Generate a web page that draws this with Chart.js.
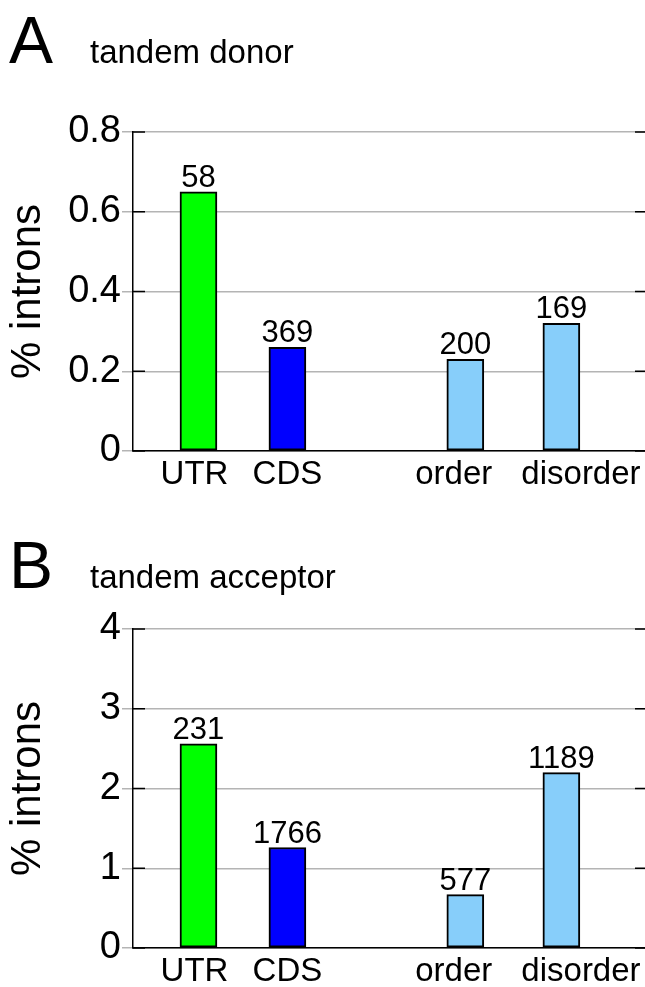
<!DOCTYPE html>
<html>
<head>
<meta charset="utf-8">
<script src="https://cdn.jsdelivr.net/npm/chart.js@4.4.1/dist/chart.umd.min.js"></script>
<style>
  html, body { margin: 0; padding: 0; background: #fff; }
  #wrap { position: relative; width: 645px; height: 987px; }
  .panel { position: absolute; left: 0; width: 645px; height: 490px; }
</style>
</head>
<body>
<div id="wrap">
  <div class="panel" style="top:0"><canvas id="chartA"></canvas></div>
  <div class="panel" style="top:497px"><canvas id="chartB"></canvas></div>
</div>
<script>
// data
const categories = ['UTR', 'CDS', 'order', 'disorder'];
const donorValues = [0.65, 0.26, 0.23, 0.32];
const donorCounts = [58, 369, 200, 169];
const acceptorValues = [2.56, 1.26, 0.67, 2.20];
const acceptorCounts = [231, 1766, 577, 1189];
const donorTicks = [0, 0.2, 0.4, 0.6, 0.8];
const acceptorTicks = [0, 1, 2, 3, 4];
const barColors = ['#00ff00', '#0000ff', '#87cefa', '#87cefa'];

// where the groups sit along the x axis (axis units, not pixels)
const barSlots = [1, 2, 4, 5.08];
const labelSlots = [0.955, 2, 3.87, 5.3];

const FONT = "'Liberation Sans', Arial, Helvetica, sans-serif";

// short black ticks inside the frame, left and right
const innerTicks = {
  id: 'innerTicks',
  afterDraw(chart) {
    const ctx = chart.ctx;
    const y = chart.scales.y;
    const area = chart.chartArea;
    ctx.save();
    ctx.strokeStyle = '#000';
    ctx.lineWidth = 1.5;
    y.ticks.forEach(t => {
      const py = y.getPixelForValue(t.value);
      ctx.beginPath();
      ctx.moveTo(area.left, py);
      ctx.lineTo(area.left + 12, py);
      ctx.moveTo(area.right - 10, py);
      ctx.lineTo(area.right, py);
      ctx.stroke();
    });
    ctx.restore();
  }
};

// counts above bars
const countLabels = {
  id: 'countLabels',
  afterDatasetsDraw(chart, args, opts) {
    const ctx = chart.ctx;
    const meta = chart.getDatasetMeta(0);
    ctx.save();
    ctx.fillStyle = '#000';
    ctx.font = '31px ' + FONT;
    ctx.textAlign = 'center';
    ctx.textBaseline = 'alphabetic';
    meta.data.forEach((bar, i) => {
      ctx.fillText(String(opts.counts[i]), bar.x, bar.y - 5);
    });
    ctx.restore();
  }
};

// panel letter + subtitle
const panelHeader = {
  id: 'panelHeader',
  afterDraw(chart, args, opts) {
    const ctx = chart.ctx;
    ctx.save();
    ctx.fillStyle = '#000';
    ctx.textAlign = 'left';
    ctx.textBaseline = 'alphabetic';
    ctx.font = '66px ' + FONT;
    ctx.fillText(opts.letter, 9, opts.base);
    ctx.font = '33px ' + FONT;
    ctx.fillText(opts.text, 90, opts.base);
    ctx.restore();
  }
};

function makeChart(id, values, counts, ticks, letter, text, base) {
  const points = barSlots.map((x, i) => ({ x: x, y: values[i] }));
  return new Chart(document.getElementById(id), {
    type: 'bar',
    data: {
      datasets: [{
        data: points,
        backgroundColor: barColors,
        borderColor: '#000',
        borderWidth: 2,
        borderSkipped: false,
        barThickness: 37
      }]
    },
    options: {
      responsive: true,
      maintainAspectRatio: false,
      animation: false,
      layout: { padding: { top: 132, right: 0, left: 0, bottom: 0 } },
      plugins: {
        legend: { display: false },
        tooltip: { enabled: false },
        countLabels: { counts: counts },
        panelHeader: { letter: letter, text: text, base: base }
      },
      scales: {
        x: {
          type: 'linear',
          offset: false,
          min: 0.264,
          max: 6.02,
          grid: { display: false, drawTicks: false, offset: false },
          border: { display: true, color: '#000', width: 1.5 },
          afterBuildTicks: axis => {
            axis.ticks = labelSlots.map(v => ({ value: v }));
          },
          afterFit: axis => { axis.height = 490 - 451; },
          ticks: {
            color: '#000',
            font: { family: FONT, size: 33 },
            padding: 4,
            maxRotation: 0,
            autoSkip: false,
            callback: (v, i) => categories[i]
          }
        },
        y: {
          min: ticks[0],
          max: ticks[ticks.length - 1],
          afterBuildTicks: axis => {
            axis.ticks = ticks.map(v => ({ value: v }));
          },
          afterFit: axis => { axis.width = 133; },
          grid: { color: '#b4b4b4', lineWidth: 1.5, tickLength: 11 },
          border: { display: true, color: '#000', width: 1.5 },
          ticks: {
            color: '#000',
            font: { family: FONT, size: 38 },
            padding: 1,
            callback: v => String(v)
          },
          title: {
            display: true,
            text: '% introns',
            color: '#000',
            font: { family: FONT, size: 42 },
            padding: { top: 3, bottom: 0 }
          }
        }
      }
    },
    plugins: [innerTicks, countLabels, panelHeader]
  });
}

makeChart('chartA', donorValues, donorCounts, donorTicks, 'A', 'tandem donor', 63);
makeChart('chartB', acceptorValues, acceptorCounts, acceptorTicks, 'B', 'tandem acceptor', 91);
</script>
</body>
</html>
